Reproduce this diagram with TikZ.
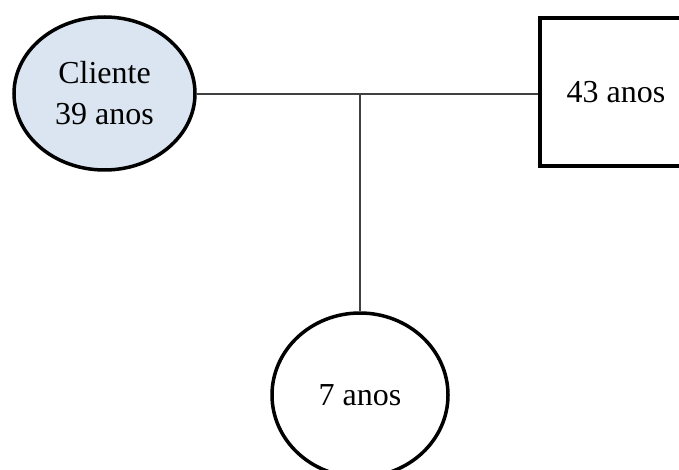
\documentclass[tikz,border=0pt]{standalone}
\usepackage{fontspec}
\setmainfont{Liberation Serif}
\usetikzlibrary{shapes.geometric}
\definecolor{clientefill}{HTML}{DBE5F1}
\definecolor{linkgray}{HTML}{404040}
\begin{document}
\begin{tikzpicture}[x=1pt,y=-1pt,
  person/.style={ellipse, draw=black, line width=3.5pt, inner sep=0pt, align=center,
    font=\fontsize{32}{41}\selectfont},
  malebox/.style={rectangle, draw=black, line width=4pt, inner sep=0pt, align=center,
    font=\fontsize{32}{41}\selectfont},
  link/.style={draw=linkgray, line width=1.5pt}]
\useasboundingbox (0,0) rectangle (679,470);
\begin{scope}
\clip (0,0) rectangle (679,470);
\node[person, fill=clientefill, minimum width=181pt, minimum height=153pt] (cli) at (104.5,93.5) {Cliente\\39 anos};
\node[malebox, minimum width=152pt, minimum height=148pt] (hus) at (616,92) {43 anos};
\node[person, fill=white, minimum width=176pt, minimum height=164pt] (kid) at (360,395) {7 anos};
\coordinate (j) at (360,94);
\draw[link] (cli.east |- j) -- (hus.west |- j);
\draw[link] (j) -- (kid.north);
\end{scope}
\end{tikzpicture}
\end{document}
